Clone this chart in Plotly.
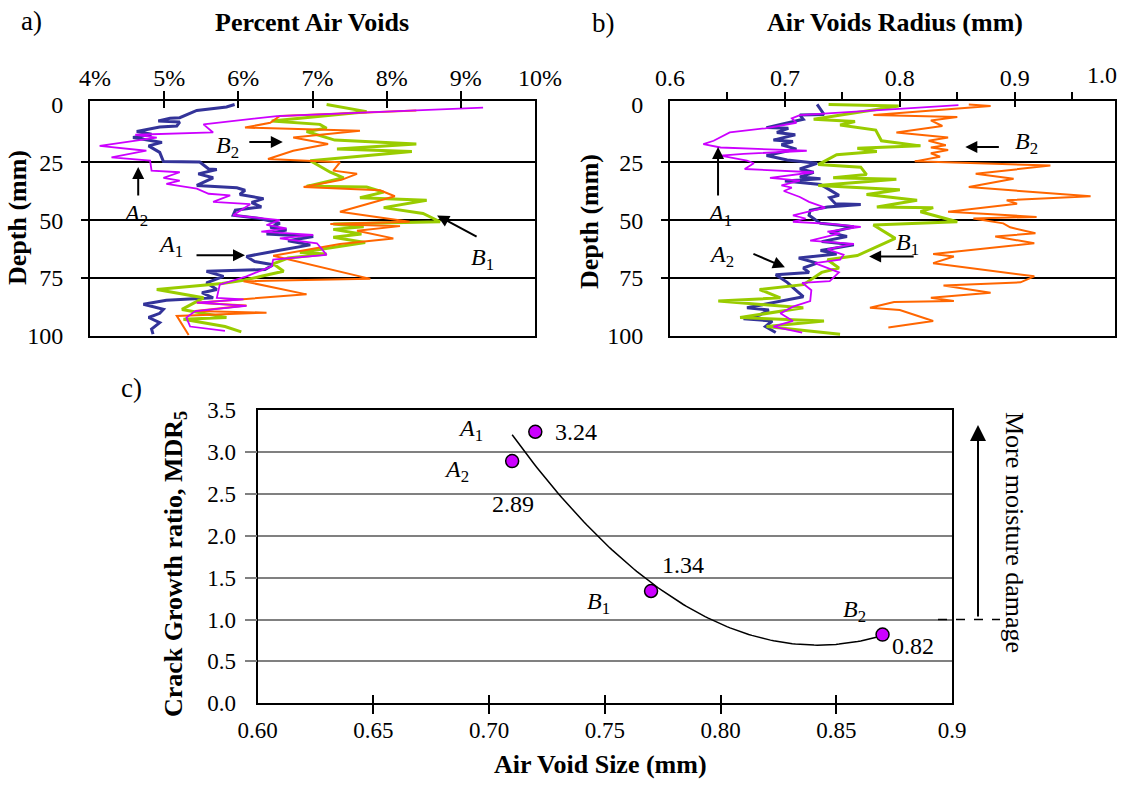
import numpy as np
import plotly.graph_objects as go

FONT = "Liberation Serif"
W, H = 1122, 795

# ---------------- DATA ----------------
# Panel a) Percent air voids (%) vs depth (mm): (depth, value)
a_A1 = [(0, 5.95), (1.1, 5.84), (2.6, 5.44), (5.7, 5.21), (6.0, 5.08), (7.1, 4.92), (7.6, 5.21), (9.3, 5.17),
        (9.7, 4.94), (11.7, 4.63), (12.9, 4.83), (14.3, 4.58), (16.4, 4.97), (17.9, 4.79), (20.7, 4.94),
        (24.7, 4.99), (24.9, 5.48), (27.9, 5.60), (28.1, 5.71), (30.0, 5.46), (31.7, 5.66), (35.0, 5.44),
        (36.0, 5.98), (37.1, 6.09), (38.9, 6.02), (40.7, 6.34), (42.4, 6.18), (44.3, 6.31), (45.7, 5.96),
        (47.9, 5.93), (49.3, 6.29), (51.4, 6.56), (53.1, 6.43), (54.3, 6.65), (56.0, 6.38), (57.1, 7.01),
        (58.9, 6.67), (60.7, 6.97), (63.1, 6.54), (65.7, 6.11), (67.9, 6.22), (69.3, 6.47), (71.4, 6.36),
        (72.1, 5.57), (74.3, 5.80), (77.1, 5.57), (80.0, 5.71), (81.4, 5.51), (83.6, 5.66), (84.6, 5.03),
        (86.4, 4.72), (88.6, 4.99), (90.3, 4.94), (92.1, 4.79), (94.3, 4.94), (97.1, 4.83), (99.3, 4.85)]
a_A2 = [(1.4, 9.30), (5.0, 6.52), (8.6, 5.53), (12.1, 5.66), (13.1, 4.61), (14.3, 4.90), (17.9, 4.13),
        (20.0, 4.76), (22.9, 4.29), (24.3, 4.81), (28.6, 4.83), (29.3, 5.21), (31.7, 4.99), (32.9, 5.21),
        (34.3, 5.03), (36.4, 5.44), (38.6, 5.60), (39.3, 5.89), (42.1, 5.66), (43.1, 6.16), (47.9, 5.93),
        (50.0, 6.56), (52.1, 6.38), (53.6, 6.65), (55.0, 6.31), (56.4, 7.01), (57.9, 6.56), (60.0, 7.06),
        (65.0, 7.19), (67.1, 6.47), (70.0, 6.45), (74.3, 6.11), (77.9, 5.75), (83.6, 5.71), (84.3, 6.07),
        (85.7, 5.44), (87.1, 6.11), (89.3, 5.42), (92.1, 5.30), (96.0, 5.35), (97.9, 5.82)]
a_B1 = [(0, 7.19), (3.1, 7.73), (7.1, 6.45), (8.6, 7.10), (10.3, 7.19), (11.7, 6.92), (15.4, 7.30),
        (17.1, 8.40), (19.3, 7.33), (20.3, 8.34), (24.3, 6.97), (29.3, 7.24), (31.7, 7.42), (35.4, 6.92),
        (35.7, 7.73), (37.9, 7.96), (40.3, 7.64), (41.4, 8.54), (44.6, 7.96), (47.1, 8.49), (50.7, 8.72),
        (51.7, 7.28), (52.9, 7.69), (54.0, 7.28), (56.0, 7.66), (57.4, 7.28), (59.7, 7.71), (64.0, 6.83),
        (64.6, 7.19), (66.4, 6.67), (68.9, 6.47), (72.1, 6.61), (74.3, 6.31), (76.0, 6.07), (77.4, 5.78),
        (80.0, 4.90), (83.6, 5.53), (88.6, 5.24), (92.1, 5.84), (92.9, 5.26), (96.0, 5.82), (98.3, 6.04)]
a_B2 = [(2.6, 8.40), (5.0, 6.56), (7.9, 6.43), (10.0, 6.09), (11.4, 7.64), (14.3, 6.74), (17.1, 7.21),
        (20.0, 6.74), (23.6, 6.40), (25.0, 7.37), (28.6, 7.28), (30.0, 7.60), (32.6, 7.39), (35.7, 6.88),
        (37.1, 7.91), (39.7, 8.11), (46.4, 7.37), (50.7, 8.31), (51.7, 7.24), (52.6, 8.18), (54.6, 7.60),
        (57.9, 8.09), (60.3, 7.37), (65.4, 6.47), (75.4, 7.78), (76.4, 6.07), (82.1, 6.92), (85.7, 5.44),
        (86.9, 6.11), (89.3, 5.42), (90.0, 6.38), (91.4, 5.17), (99.7, 5.33)]

# Panel b) Air voids radius (mm) vs depth (mm): (depth, value)
b_A1 = [(0, 0.728), (2.1, 0.731), (4.3, 0.734), (4.6, 0.713), (6.4, 0.716), (10.0, 0.684), (10.3, 0.703),
        (12.1, 0.693), (13.1, 0.709), (15.4, 0.690), (16.0, 0.707), (17.4, 0.697), (19.3, 0.710),
        (22.1, 0.684), (24.0, 0.702), (25.4, 0.728), (27.9, 0.713), (29.3, 0.725), (31.4, 0.713),
        (32.1, 0.731), (33.1, 0.700), (34.6, 0.731), (37.1, 0.739), (39.3, 0.747), (40.3, 0.739),
        (42.9, 0.744), (43.3, 0.766), (44.3, 0.737), (45.7, 0.722), (47.9, 0.721), (51.4, 0.731),
        (52.9, 0.760), (55.4, 0.739), (57.1, 0.754), (59.3, 0.732), (60.7, 0.760), (63.1, 0.731),
        (64.6, 0.745), (66.4, 0.712), (68.6, 0.728), (70.7, 0.716), (72.6, 0.721), (73.6, 0.692),
        (76.9, 0.702), (80.0, 0.709), (83.1, 0.716), (87.9, 0.667), (88.9, 0.686), (91.1, 0.678),
        (92.6, 0.664), (93.6, 0.689), (96.0, 0.683), (98.6, 0.692)]
b_A2 = [(0.3, 0.851), (4.6, 0.713), (6.0, 0.706), (7.9, 0.710), (10.3, 0.683), (12.1, 0.652), (15.7, 0.638),
        (17.1, 0.629), (18.6, 0.644), (20.0, 0.719), (21.4, 0.664), (22.1, 0.644), (24.3, 0.667),
        (25.4, 0.673), (27.9, 0.665), (28.6, 0.702), (29.3, 0.725), (31.7, 0.687), (32.9, 0.713),
        (35.0, 0.697), (36.0, 0.706), (37.4, 0.699), (40.0, 0.713), (42.1, 0.721), (44.6, 0.735),
        (47.9, 0.707), (49.3, 0.718), (50.7, 0.707), (51.7, 0.742), (52.9, 0.766), (55.0, 0.737),
        (55.7, 0.748), (58.9, 0.722), (60.3, 0.760), (62.6, 0.737), (65.0, 0.751), (67.1, 0.748),
        (68.6, 0.726), (72.6, 0.747), (76.4, 0.739), (77.1, 0.715), (80.3, 0.723), (85.0, 0.722),
        (87.4, 0.707), (90.3, 0.696), (93.6, 0.707), (96.0, 0.690), (98.6, 0.715)]
b_B1 = [(0, 0.738), (0.7, 0.799), (6.4, 0.725), (7.4, 0.761), (8.9, 0.748), (11.1, 0.779), (15.7, 0.784),
        (17.9, 0.818), (18.9, 0.763), (20.3, 0.780), (21.7, 0.745), (26.0, 0.729), (27.1, 0.766),
        (30.3, 0.771), (31.7, 0.742), (32.3, 0.797), (35.0, 0.729), (36.9, 0.800), (38.9, 0.771),
        (41.4, 0.815), (44.3, 0.780), (44.6, 0.829), (46.4, 0.818), (50.7, 0.850), (52.1, 0.777),
        (57.9, 0.796), (65.3, 0.763), (67.1, 0.737), (70.7, 0.747), (72.6, 0.732), (77.9, 0.716),
        (80.0, 0.678), (83.6, 0.696), (85.0, 0.642), (87.9, 0.716), (92.1, 0.661), (93.6, 0.734),
        (96.0, 0.684), (99.3, 0.748)]
b_B2 = [(0, 0.860), (0.7, 0.879), (4.6, 0.777), (5.4, 0.850), (6.9, 0.827), (9.3, 0.837), (12.1, 0.797),
        (14.3, 0.842), (15.7, 0.825), (17.6, 0.840), (18.6, 0.827), (19.7, 0.842), (21.1, 0.827),
        (22.6, 0.835), (24.6, 0.813), (26.4, 0.931), (30.0, 0.866), (32.1, 0.899), (35.7, 0.860),
        (39.7, 0.966), (41.4, 0.893), (42.9, 0.902), (46.4, 0.842), (48.6, 0.919), (49.3, 0.864),
        (51.4, 0.890), (53.1, 0.896), (55.7, 0.918), (57.1, 0.883), (60.0, 0.917), (64.6, 0.829),
        (65.7, 0.847), (68.6, 0.829), (72.6, 0.890), (74.3, 0.917), (76.9, 0.905), (78.3, 0.838),
        (81.4, 0.879), (83.6, 0.827), (85.0, 0.847), (85.4, 0.795), (87.9, 0.774), (88.9, 0.800),
        (93.6, 0.829), (96.4, 0.790)]

# Panel c) crack growth ratio vs air void size
c_names = ["A1", "A2", "B1", "B2"]
c_size = [0.72, 0.71, 0.77, 0.87]
c_mdr = [3.24, 2.89, 1.34, 0.82]

a_ticks = [4, 5, 6, 7, 8, 9, 10]
b_ticks = [0.6, 0.7, 0.8, 0.9]
c_xticks = [0.60, 0.65, 0.70, 0.75, 0.80, 0.85, 0.90]
c_xticktext = ["0.60", "0.65", "0.70", "0.75", "0.80", "0.85", "0.9"]
c_yticks = [0.0, 0.5, 1.0, 1.5, 2.0, 2.5, 3.0, 3.5]
depth_ticks = [0, 25, 50, 75, 100]

# ---------------- STYLE ----------------
COLORS = {"A1": "#333399", "A2": "#CC00FF", "B1": "#99CC00", "B2": "#FF6600"}
WIDTHS = {"A1": 3, "A2": 1.8, "B1": 3, "B2": 2}
TF = dict(family=FONT, size=24, color="black")
TFC = dict(family=FONT, size=23, color="black")

A_X = [90 / W, 535 / W]
B_X = [670 / W, 1114.5 / W]
AB_Y = [1 - 336 / H, 1 - 101 / H]
C_X = [257.5 / W, 952 / W]
C_Y = [1 - 703.3 / H, 1 - 410 / H]
DEPTH_RANGE = [100.1, -1.5]


def unzip(pairs):
    return [p[0] for p in pairs], [p[1] for p in pairs]


fig = go.Figure()

for xa, ya, series in [("x", "y", {"A1": a_A1, "B1": a_B1, "B2": a_B2, "A2": a_A2}),
                       ("x2", "y2", {"A1": b_A1, "B1": b_B1, "B2": b_B2, "A2": b_A2})]:
    for key, pairs in series.items():
        d, v = unzip(pairs)
        fig.add_trace(go.Scatter(x=v, y=d, mode="lines", xaxis=xa, yaxis=ya,
                                 line=dict(color=COLORS[key], width=WIDTHS[key]),
                                 showlegend=False, hoverinfo="skip"))

# trend line (2nd-order polynomial fit of the four points)
coef = np.polyfit(c_size, c_mdr, 2)
xs = np.linspace(min(c_size), max(c_size), 120)
fig.add_trace(go.Scatter(x=xs, y=np.polyval(coef, xs), mode="lines", xaxis="x3", yaxis="y3",
                         line=dict(color="black", width=1.5), showlegend=False, hoverinfo="skip"))
fig.add_trace(go.Scatter(x=c_size, y=c_mdr, mode="markers", xaxis="x3", yaxis="y3",
                         marker=dict(size=13, color="#CC00FF", line=dict(color="black", width=1.5)),
                         showlegend=False, hoverinfo="skip"))

# empty traces so overlay axes are drawn
for xa, ya in [("x4", "y"), ("x5", "y"), ("x", "y4"), ("x6", "y2"), ("x7", "y2"), ("x2", "y5"),
               ("x8", "y3"), ("x9", "y3"), ("x3", "y6")]:
    fig.add_trace(go.Scatter(x=[None], y=[None], xaxis=xa, yaxis=ya, showlegend=False, hoverinfo="skip"))

box = dict(showline=True, mirror=True, linecolor="black", linewidth=2, showgrid=False,
           zeroline=False, fixedrange=True)
blank = dict(showticklabels=False, showgrid=False, zeroline=False, showline=False, fixedrange=True,
             tickcolor="black", tickwidth=2)

fig.update_layout(
    width=W, height=H, margin=dict(l=0, r=0, t=0, b=0, autoexpand=False), autosize=False,
    paper_bgcolor="white", plot_bgcolor="white",
    font=dict(family=FONT, size=24, color="black"),
    # panel a
    xaxis=dict(domain=A_X, anchor="y", side="top", range=[4, 10], tickvals=a_ticks,
               ticktext=[f"{t}%" for t in a_ticks], ticks="", tickfont=TF,
               ticklabelshift=5, ticklabelstandoff=3, **box),
    xaxis4=dict(overlaying="x", anchor="y", side="top", range=[4, 10], tickvals=a_ticks[1:-1],
                ticks="outside", ticklen=9, **blank),
    xaxis5=dict(overlaying="x", anchor="y", side="top", range=[4, 10], tickvals=a_ticks[1:-1],
                ticks="inside", ticklen=7, **blank),
    yaxis=dict(domain=AB_Y, anchor="x", range=DEPTH_RANGE, tickvals=depth_ticks, ticks="",
               tickfont=TF, ticklabelstandoff=20, **box),
    yaxis4=dict(overlaying="y", anchor="x", range=DEPTH_RANGE, tickvals=depth_ticks[1:-1],
                ticks="outside", ticklen=8, showticklabels=False, showgrid=True, gridcolor="black",
                gridwidth=2, zeroline=False, showline=False, tickcolor="black", tickwidth=2,
                fixedrange=True),
    # panel b
    xaxis2=dict(domain=B_X, anchor="y2", side="top", range=[0.6, 0.9868], tickvals=b_ticks,
                ticktext=[f"{t:.1f}" for t in b_ticks], ticks="", tickfont=TF,
                ticklabelstandoff=3, **box),
    xaxis6=dict(overlaying="x2", anchor="y2", side="top", range=[0.6, 0.9868],
                tickvals=[0.65, 0.7, 0.75, 0.8, 0.85, 0.9, 0.95], ticks="outside", ticklen=8, **blank),
    xaxis7=dict(overlaying="x2", anchor="y2", side="top", range=[0.6, 0.9868],
                tickvals=[0.7, 0.8, 0.9], ticks="inside", ticklen=6, **blank),
    yaxis2=dict(domain=AB_Y, anchor="x2", range=DEPTH_RANGE, tickvals=depth_ticks, ticks="",
                tickfont=TF, ticklabelstandoff=20, **box),
    yaxis5=dict(overlaying="y2", anchor="x2", range=DEPTH_RANGE, tickvals=depth_ticks[1:-1],
                ticks="outside", ticklen=8, showticklabels=False, showgrid=True, gridcolor="black",
                gridwidth=2, zeroline=False, showline=False, tickcolor="black", tickwidth=2,
                fixedrange=True),
    # panel c
    xaxis3=dict(domain=C_X, anchor="y3", range=[0.6, 0.9], tickvals=c_xticks, ticktext=c_xticktext,
                ticks="", tickfont=TFC, ticklabelstandoff=5, **box),
    xaxis8=dict(overlaying="x3", anchor="y3", range=[0.6, 0.9], tickvals=c_xticks[1:-1],
                ticks="outside", ticklen=10, **blank),
    xaxis9=dict(overlaying="x3", anchor="y3", range=[0.6, 0.9], tickvals=c_xticks[1:-1],
                ticks="inside", ticklen=8, **blank),
    yaxis3=dict(domain=C_Y, anchor="x3", range=[0, 3.5], tickvals=c_yticks,
                ticktext=[f"{t:.1f}" for t in c_yticks], ticks="", tickfont=TFC,
                ticklabelstandoff=15, **box),
    yaxis6=dict(overlaying="y3", anchor="x3", range=[0, 3.5], tickvals=c_yticks[1:-1],
                ticks="outside", ticklen=12, showticklabels=False, showgrid=True, gridcolor="#808080",
                gridwidth=2, zeroline=False, showline=False, tickcolor="#808080", tickwidth=2,
                fixedrange=True),
)

anns = []


def txt(text, x, y, xref="paper", yref="paper", size=24, xanchor="center", **kw):
    anns.append(dict(text=text, x=x, y=y, xref=xref, yref=yref, showarrow=False,
                     xanchor=xanchor, yanchor="middle",
                     font=dict(family=FONT, size=size, color="black"), **kw))


def arrow(x, y, ax, ay, xref, yref, size=1.2):
    anns.append(dict(text="", x=x, y=y, ax=ax, ay=ay, xref=xref, yref=yref, showarrow=True,
                     arrowhead=2, arrowsize=size, arrowwidth=2, arrowcolor="black"))


def lab(name):
    return f"<i>{name[0]}</i><sub>{name[1]}</sub>"


# titles
txt("a)", 31 / W, 1 - 21 / H, size=27)
txt("<b>Percent Air Voids</b>", 213 / W, 1 - 23 / H, size=26, xanchor="left")
txt("b)", 603 / W, 1 - 23 / H, size=27)
txt("<b>Air Voids Radius (mm)</b>", 765 / W, 1 - 23 / H, size=26, xanchor="left")
txt("c)", 131 / W, 1 - 388 / H, size=27)
txt("<b>Depth (mm)</b>", 18 / W, 1 - 218 / H, size=26, textangle=-90)
txt("<b>Depth (mm)</b>", 590 / W, 1 - 222 / H, size=26, textangle=-90)
txt("<b>Crack Growth ratio, MDR<sub>5</sub></b>", 175 / W, 1 - 564 / H, size=26, textangle=-90)
txt("<b>Air Void Size (mm)</b>", 600 / W, 1 - 764 / H, size=26)
txt("More moisture damage", 1015 / W, 1 - 532 / H, size=26, textangle=90)
txt("1.0", 1102 / W, 1 - 75 / H)

# panel a labels + arrows
txt(lab("B2"), 5.86, 18.4, "x", "y")
arrow(6.60, 16.2, -35, 0, "x", "y")
txt(lab("A2"), 4.61, 47.6, "x", "y")
arrow(4.65, 27.0, 0, 30, "x", "y")
txt(lab("A1"), 5.08, 61.4, "x", "y")
arrow(6.09, 65.2, -50, 0, "x", "y")
txt(lab("B1"), 9.29, 67.0, "x", "y")
arrow(8.68, 48.0, 41, 22, "x", "y")

# panel b labels + arrows
txt(lab("B2"), 0.910, 16.7, "x2", "y2")
arrow(0.857, 18.4, 35, 0, "x2", "y2")
txt(lab("A1"), 0.6427, 47.6, "x2", "y2")
arrow(0.6418, 18.4, 0, 50, "x2", "y2")
txt(lab("A2"), 0.6444, 65.7, "x2", "y2")
arrow(0.700, 70.4, -33, -14, "x2", "y2")
txt(lab("B1"), 0.8064, 60.5, "x2", "y2")
arrow(0.7733, 65.7, 46, 0, "x2", "y2")

# panel c point labels
name_shift = {"A1": (-65, 2), "A2": (-56, -10), "B1": (-53, -12), "B2": (-28, 24)}
val_shift = {"A1": (41, 0), "A2": (1, -43), "B1": (32, 26), "B2": (30, -11)}
for n, xv, yv in zip(c_names, c_size, c_mdr):
    sx, sy = name_shift[n]
    txt(lab(n), xv, yv, "x3", "y3", xshift=sx, yshift=sy)
    sx, sy = val_shift[n]
    txt(f"{yv:.2f}", xv, yv, "x3", "y3", xshift=sx, yshift=sy)

# "more moisture damage" arrow and dashed reference line at MDR = 1
arrow(978 / W, 1 - 425 / H, 0, 193, "paper", "paper", size=1.6)
fig.update_layout(annotations=anns,
                  shapes=[dict(type="line", xref="paper", yref="y3", x0=938 / W, x1=1000 / W,
                               y0=1.0, y1=1.0, line=dict(color="black", width=1.5, dash="dash"))])

fig.write_html("out.html")
